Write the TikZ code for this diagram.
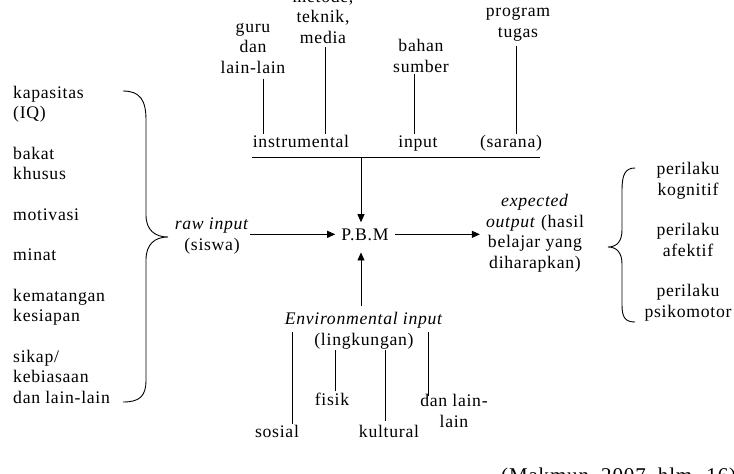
\documentclass[tikz,border=0pt]{standalone}
\usepackage{fontspec}
\setmainfont{Liberation Serif}[LetterSpace=4]
\usetikzlibrary{arrows.meta,calc,positioning}

\begin{document}
\begin{tikzpicture}[
    x=1pt, y=-1pt,
    every node/.style={font=\fontsize{17.7}{20.5}\selectfont, inner sep=1pt, align=center, anchor=base},
    link/.style={line width=0.9pt},
    flow/.style={line width=0.9pt, -{Triangle[length=8pt,width=7pt]}}
]
\useasboundingbox (0,0) rectangle (734,474);

\node (guru) at (253,73) {guru\\dan\\lain-lain};
\node (metode) at (323,43) {metode,\\teknik,\\media};
\node (bahan) at (421,72) {bahan\\sumber};
\node (program) at (518,37) {program\\tugas};
\node (instr) at (301,147) {instrumental};
\node (inp) at (418,147) {input};
\node (sarana) at (511,147) {(sarana)};

\draw[link] ($(guru.south)+(10,5)$) coordinate (g1) -- (g1 |- instr.north);
\draw[link] ($(metode.south)+(2,3)$) coordinate (m1) -- (m1 |- instr.north);
\draw[link] ($(bahan.south)+(-7,1)$) coordinate (b1) -- (b1 |- instr.north);
\draw[link] ($(program.south)+(-2,4)$) coordinate (p1) -- (p1 |- instr.north);
\draw[link] ($(instr.base west)+(0,10)$) coordinate (barL) -- ($(sarana.base east)+(-3,10)$);

\node[inner xsep=6pt] (pbm) at (365,240) {P.B.M};
\coordinate (bar) at (361,157);

\node[align=left, anchor=base west] (factors) at (12,403) {kapasitas\\(IQ)\\[20pt]bakat\\khusus\\[20pt]motivasi\\[20pt]minat\\[20pt]kematangan\\kesiapan\\[20pt]sikap/\\kebiasaan\\dan lain-lain};
\node (raw) at (212,250) {\textit{raw input}\\(siswa)};
\node (expect) at (535,268) {\textit{expected}\\\textit{output} (hasil\\belajar yang\\diharapkan)};
\node (behav) at (688,317) {perilaku\\kognitif\\[20pt]perilaku\\afektif\\[20pt]perilaku\\psikomotor};

\node (env) at (364,345) {\textit{Environmental input}\\(lingkungan)};
\node (sosial) at (277,437) {sosial};
\node (fisik) at (332,405) {fisik};
\node (kultural) at (389,437) {kultural};
\node (lain) at (454,427) {dan lain-\\lain};

\draw[flow] (bar) -- ([yshift=5pt]bar |- pbm.north);
\draw[flow] ([yshift=5pt]env.north -| bar) -- ([yshift=-11pt]bar |- pbm.south);
\draw[flow] (raw.east |- pbm) -- (pbm.west);
\draw[flow] (pbm.east) -- ([xshift=-5pt]expect.west |- pbm);

\draw[link] ($(env.base west)+(9,-13)$) coordinate (s1) -- (s1 |- sosial.north);
\draw[link] ($(fisik.north)+(3,0)$) coordinate (f1) -- (f1 |- env.south);
\draw[link] ($(kultural.north)+(-4,-3)$) coordinate (k1) -- (k1 |- env.south);
\draw[link] ($(env.base east)+(-16,-13)$) coordinate (d1) -- ($(d1 |- lain.north)+(0,3)$);

\draw[link] (123,91) .. controls (140,91) and (146,100) .. (146,120) -- (146,215)
    .. controls (146,230) and (155,237) .. (168,237)
    .. controls (155,237) and (146,244) .. (146,260) -- (146,380)
    .. controls (146,396) and (140,402) .. (123,402);
\draw[link] (635,168) .. controls (625,168) and (622,175) .. (622,190) -- (622,230)
    .. controls (622,241) and (617,247) .. (608,247)
    .. controls (617,247) and (622,253) .. (622,264) -- (622,305)
    .. controls (622,317) and (625,322) .. (635,322);

\node[anchor=base west, font=\fontsize{21}{24}\selectfont] (src) at (500,482) {(Makmun, 2007, hlm. 16)};
\end{tikzpicture}
\end{document}
